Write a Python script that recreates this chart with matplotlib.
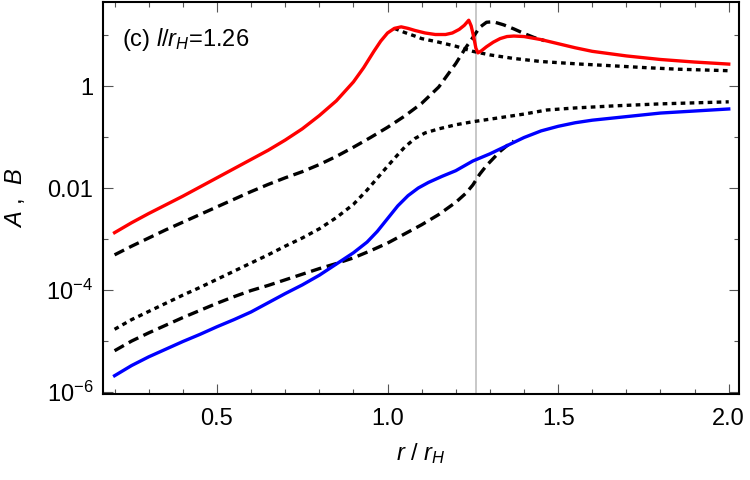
import numpy as np
import matplotlib
matplotlib.use("Agg")
import matplotlib.pyplot as plt
from matplotlib.ticker import FixedLocator, NullFormatter

plt.rcParams["font.family"] = ["Liberation Sans", "DejaVu Sans"]
plt.rcParams["mathtext.fontset"] = "custom"
plt.rcParams["mathtext.rm"] = "Liberation Sans"
plt.rcParams["mathtext.it"] = "Liberation Sans:italic"

# data (log10 of the values)
x_red = [0.20, 0.25, 0.30, 0.35, 0.40, 0.45, 0.50, 0.55, 0.60, 0.65, 0.70, 0.75, 0.80,
         0.85, 0.90, 0.93, 0.96, 0.98, 1.00, 1.02, 1.04, 1.06, 1.08, 1.11, 1.14, 1.17,
         1.19, 1.21, 1.225, 1.238, 1.245, 1.252, 1.259, 1.265, 1.275, 1.29, 1.31, 1.33,
         1.35, 1.37, 1.40, 1.45, 1.50, 1.55, 1.60, 1.70, 1.80, 1.90, 2.00]
lg_red = [-2.875, -2.68, -2.50, -2.33, -2.16, -1.98, -1.80, -1.62, -1.44, -1.26, -1.06, -0.84, -0.58,
          -0.29, 0.08, 0.36, 0.68, 0.88, 1.04, 1.13, 1.16, 1.13, 1.09, 1.04, 1.01, 1.01,
          1.04, 1.11, 1.19, 1.29, 1.18, 0.98, 0.74, 0.65, 0.69, 0.77, 0.86, 0.93,
          0.97, 0.98, 0.97, 0.91, 0.83, 0.75, 0.68, 0.59, 0.52, 0.47, 0.43]

x_dot1 = [1.02, 1.05, 1.08, 1.10, 1.15, 1.20, 1.25, 1.30, 1.37, 1.45, 1.565, 1.65, 1.757, 1.85, 2.00]
lg_dot1 = [1.13, 1.05, 0.98, 0.93, 0.86, 0.78, 0.68, 0.61, 0.54, 0.48, 0.43, 0.40, 0.36, 0.33, 0.30]

x_dash1 = [0.20, 0.25, 0.30, 0.35, 0.40, 0.45, 0.50, 0.55, 0.60, 0.65, 0.70, 0.75, 0.80, 0.85,
           0.90, 0.95, 1.00, 1.05, 1.10, 1.15, 1.20, 1.23, 1.25, 1.27, 1.29, 1.31, 1.34, 1.37,
           1.40, 1.43, 1.46]
lg_dash1 = [-3.31, -3.14, -2.98, -2.82, -2.67, -2.52, -2.37, -2.22, -2.07, -1.93, -1.80, -1.68, -1.54, -1.38,
            -1.20, -1.01, -0.81, -0.59, -0.34, -0.02, 0.44, 0.76, 0.95, 1.15, 1.25, 1.26, 1.20, 1.12,
            1.03, 0.95, 0.89]

x_dot2 = [0.20, 0.25, 0.30, 0.35, 0.40, 0.45, 0.50, 0.55, 0.60, 0.65, 0.70, 0.75, 0.80, 0.85,
          0.90, 0.94, 0.99, 1.02, 1.05, 1.08, 1.11, 1.15, 1.20, 1.25, 1.33, 1.40, 1.467, 1.55,
          1.662, 1.80, 1.90, 2.00]
lg_dot2 = [-4.77, -4.58, -4.42, -4.26, -4.10, -3.95, -3.79, -3.63, -3.47, -3.31, -3.14, -2.98, -2.80, -2.58,
           -2.32, -2.04, -1.65, -1.42, -1.20, -1.03, -0.92, -0.84, -0.76, -0.70, -0.62, -0.55, -0.47, -0.43,
           -0.39, -0.35, -0.33, -0.31]

x_dash2 = [0.20, 0.25, 0.30, 0.35, 0.40, 0.45, 0.50, 0.55, 0.60, 0.65, 0.70, 0.75, 0.80, 0.85,
           0.90, 0.95, 1.00, 1.05, 1.10, 1.15, 1.20, 1.23, 1.25, 1.27, 1.29, 1.31, 1.33, 1.35, 1.37]
lg_dash2 = [-5.19, -5.00, -4.84, -4.69, -4.54, -4.40, -4.26, -4.13, -4.01, -3.91, -3.80, -3.69, -3.58, -3.48,
            -3.37, -3.23, -3.08, -2.90, -2.72, -2.52, -2.28, -2.10, -1.94, -1.73, -1.56, -1.42, -1.28, -1.17, -1.08]

x_blue = [0.20, 0.25, 0.30, 0.35, 0.40, 0.45, 0.50, 0.55, 0.60, 0.65, 0.70, 0.75, 0.80, 0.85,
          0.90, 0.94, 0.97, 1.00, 1.03, 1.06, 1.09, 1.12, 1.16, 1.20, 1.25, 1.30, 1.35, 1.40,
          1.45, 1.50, 1.55, 1.60, 1.70, 1.80, 1.90, 2.00]
lg_blue = [-5.68, -5.48, -5.31, -5.16, -5.01, -4.87, -4.72, -4.58, -4.43, -4.25, -4.07, -3.90, -3.71, -3.49,
           -3.27, -3.06, -2.85, -2.60, -2.35, -2.15, -2.00, -1.89, -1.77, -1.66, -1.47, -1.33, -1.17, -1.01,
           -0.88, -0.79, -0.72, -0.67, -0.60, -0.53, -0.49, -0.45]

l_over_rH = 1.26

fig = plt.figure(figsize=(7.5, 4.8), dpi=100)
ax = fig.add_axes([0.1373, 0.179, 0.848, 0.8168])

ax.axvline(l_over_rH, color="#c8c8c8", lw=1.4, zorder=1)

kw = dict(color="black", lw=2.4, zorder=2)
ax.plot(x_dash1, 10 ** np.array(lg_dash1), dashes=(3.2, 1.7), **kw)
ax.plot(x_dash2, 10 ** np.array(lg_dash2), dashes=(3.2, 1.7), **kw)
ax.plot(x_dot1, 10 ** np.array(lg_dot1), dashes=(1.4, 1.3), **kw)
ax.plot(x_dot2, 10 ** np.array(lg_dot2), dashes=(1.4, 1.3), **kw)
ax.plot(x_red, 10 ** np.array(lg_red), color="#ff0000", lw=2.4, zorder=3)
ax.plot(x_blue, 10 ** np.array(lg_blue), color="#0000ff", lw=2.4, zorder=3)

ax.set_yscale("log")
ax.set_xlim(0.166, 2.03)
ax.set_ylim(10 ** -6.04, 10 ** 1.647)

ax.xaxis.set_major_locator(FixedLocator([0.5, 1.0, 1.5, 2.0]))
ax.xaxis.set_minor_locator(FixedLocator(np.arange(0.2, 2.01, 0.1)))
ax.set_xticklabels(["0.5", "1.0", "1.5", "2.0"])
ax.yaxis.set_major_locator(FixedLocator([1e-6, 1e-4, 1e-2, 1]))
ax.yaxis.set_minor_locator(FixedLocator([1e-5, 1e-3, 1e-1, 10]))
ax.yaxis.set_minor_formatter(NullFormatter())
ax.set_yticklabels([r"$\mathregular{10^{-6}}$", r"$\mathregular{10^{-4}}$", "0.01", "1"])

ax.tick_params(which="both", direction="in", top=True, right=True, color="#555555",
               labelsize=17, width=0.8)
ax.tick_params(which="major", length=7, pad=10)
ax.tick_params(which="minor", length=3.5)
ax.tick_params(axis="y", which="major", pad=7)
for s in ax.spines.values():
    s.set_linewidth(1.5)

ax.set_xlabel(r"$r$ / $r_H$", fontsize=17, labelpad=8)
ax.set_ylabel(r"$A$ ,  $B$", fontsize=17, labelpad=14)
ax.text(0.03, 0.905, r"(c) $l$/$r_H$=1.26", transform=ax.transAxes, fontsize=17, va="center")

fig.savefig("out.png", dpi=100)
